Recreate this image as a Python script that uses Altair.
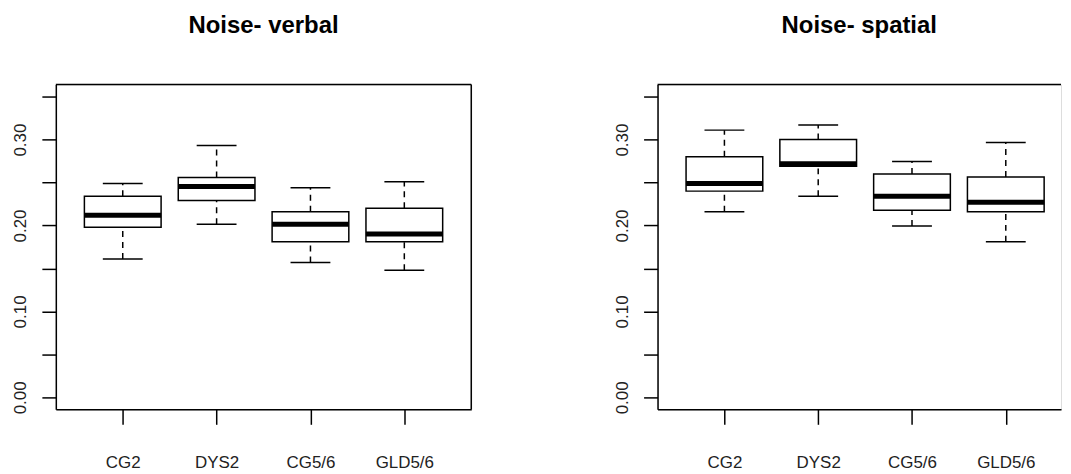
import altair as alt
import pandas as pd

groups = ["CG2", "DYS2", "CG5/6", "GLD5/6"]
positions = [1, 2, 3, 4]

verbal_low = [0.161, 0.2015, 0.157, 0.148]
verbal_q1 = [0.198, 0.229, 0.181, 0.181]
verbal_med = [0.212, 0.2455, 0.2015, 0.190]
verbal_q3 = [0.234, 0.256, 0.216, 0.220]
verbal_high = [0.249, 0.293, 0.244, 0.251]

spatial_low = [0.216, 0.234, 0.1995, 0.181]
spatial_q1 = [0.240, 0.269, 0.2177, 0.216]
spatial_med = [0.249, 0.272, 0.234, 0.227]
spatial_q3 = [0.280, 0.300, 0.260, 0.2565]
spatial_high = [0.311, 0.317, 0.2746, 0.2966]

y_ticks = [0.0, 0.05, 0.10, 0.15, 0.20, 0.25, 0.30, 0.35]

FONT = "Liberation Sans"
PLOT_H = 326
FULL_W = 417
Y_DOMAIN = [-0.014, 0.364]
X_MIN, X_MAX = 0.34, 4.66


def make_panel(title, low, q1, med, q3, high, width, right_border):
    df = pd.DataFrame({"group": groups, "pos": positions, "low": low, "q1": q1,
                       "med": med, "q3": q3, "high": high})
    xmax = X_MIN + (X_MAX - X_MIN) * width / FULL_W
    label_expr = "[" + ",".join("'%s'" % g for g in groups) + "][round(datum.value) - 1]"
    x_enc = alt.X("pos:Q",
                  scale=alt.Scale(domain=[X_MIN, xmax], nice=False, zero=False),
                  axis=alt.Axis(values=positions, labelExpr=label_expr, title=None,
                                grid=False, tickSize=15, tickWidth=1.5, tickColor="black",
                                domainColor="black", domainWidth=1.5,
                                labelPadding=30, labelFontSize=17, labelFont=FONT,
                                labelColor="#222", labelFlush=False))

    def y_enc(field):
        return alt.Y(field + ":Q",
                     scale=alt.Scale(domain=Y_DOMAIN, nice=False, zero=False),
                     axis=alt.Axis(values=y_ticks,
                                   labelExpr="round(datum.value*100) % 10 == 0 ? format(datum.value, '.2f') : ''",
                                   title=None, grid=False, tickSize=14, tickWidth=1.5,
                                   tickColor="black", domainColor="black", domainWidth=1.5,
                                   labelAngle=270, labelAlign="center", labelBaseline="bottom",
                                   labelPadding=12, labelFontSize=17, labelFont=FONT,
                                   labelColor="#222", minExtent=47, maxExtent=47))

    base = alt.Chart(df)
    w_low = base.mark_rule(color="black", strokeWidth=1.5, strokeDash=[6, 5]).encode(
        x=x_enc, y=y_enc("low"), y2="q1:Q")
    w_high = base.mark_rule(color="black", strokeWidth=1.5, strokeDash=[6, 5]).encode(
        x=x_enc, y=y_enc("q3"), y2="high:Q")
    cap_low = base.mark_tick(orient="horizontal", color="black", opacity=1, size=40,
                             thickness=1.5).encode(x=x_enc, y=y_enc("low"))
    cap_high = base.mark_tick(orient="horizontal", color="black", opacity=1, size=40,
                              thickness=1.5).encode(x=x_enc, y=y_enc("high"))
    box = base.mark_bar(fill="white", stroke="black", strokeWidth=1.5, size=77).encode(
        x=x_enc, y=y_enc("q1"), y2="q3:Q")
    median = base.mark_tick(orient="horizontal", color="black", opacity=1, size=77,
                            thickness=5).encode(x=x_enc, y=y_enc("med"))

    one = alt.Chart(pd.DataFrame({"k": [0]}))
    top = one.mark_rule(color="black", strokeWidth=1.5).encode(
        x=alt.value(0), x2=alt.value(width), y=alt.value(0))
    layers = [w_low, w_high, cap_low, cap_high, box, median, top]
    if right_border:
        layers.append(one.mark_rule(color="black", strokeWidth=1.5).encode(
            x=alt.value(width), y=alt.value(0), y2=alt.value(PLOT_H)))

    return alt.layer(*layers).properties(
        width=width, height=PLOT_H,
        title=alt.TitleParams(title, fontSize=24, fontWeight="bold", font=FONT,
                              color="black", anchor="middle", offset=46))


left = make_panel("Noise- verbal", verbal_low, verbal_q1, verbal_med, verbal_q3,
                  verbal_high, FULL_W, True)
right = make_panel("Noise- spatial", spatial_low, spatial_q1, spatial_med, spatial_q3,
                   spatial_high, 405, False)

chart = alt.hconcat(left, right, spacing=137).properties(
    padding={"top": 4, "left": 0, "right": 0, "bottom": 0}).configure_view(
    stroke="transparent").configure(background="white")

chart.save("out.html", embed_options={"renderer": "svg", "actions": False})
